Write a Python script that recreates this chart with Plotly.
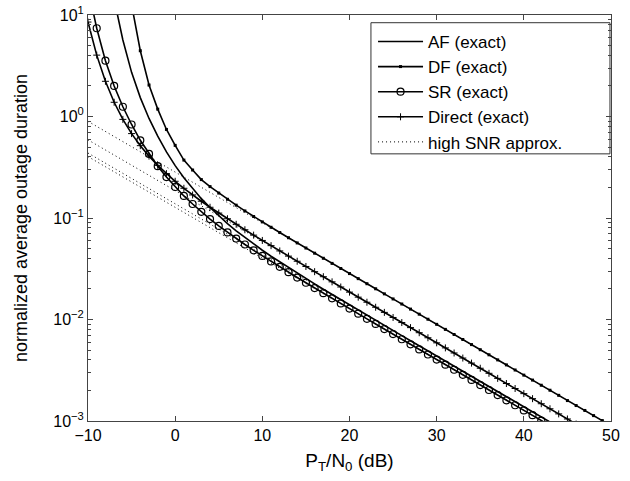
import plotly.graph_objects as go

# x grid (dB), one point per dB
snr_db = list(range(-10, 51))

# exact curves (one per dB from -10 dB)
af_exact = [60.0, 50.0, 43.7, 14.27, 5.675, 2.723, 1.535, 0.957, 0.640, 0.448,
            0.328, 0.249, 0.194, 0.155, 0.1268, 0.1054, 0.0882, 0.0748, 0.0641, 0.0553,
            0.0481, 0.0420, 0.0369, 0.03243, 0.02862, 0.02531, 0.02242, 0.01988, 0.01765, 0.01568,
            0.01394, 0.01240, 0.01103, 0.00982, 0.00874, 0.00779, 0.00694, 0.00618, 0.00551, 0.00490,
            0.00437, 0.00389, 0.00347, 0.00309, 0.00275, 0.00245, 0.00219, 0.00195, 0.00174, 0.00155,
            0.00138, 0.00123, 0.00110, 0.000977, 0.000871, None, None, None, None, None, None]

df_exact = [80.0, 70.0, 60.0, 55.0, 50.0, 12.66, 4.446, 2.042, 1.182, 0.7454,
            0.5195, 0.3720, 0.2970, 0.2390, 0.2039, 0.1760, 0.1529, 0.1338, 0.1174, 0.1034,
            0.0915, 0.0810, 0.0719, 0.0639, 0.0568, 0.0506, 0.0450, 0.0401, 0.0357, 0.0318,
            0.02835, 0.02527, 0.02252, 0.02007, 0.01789, 0.01594, 0.01421, 0.01266, 0.01128, 0.01006,
            0.00896, 0.00799, 0.00712, 0.00635, 0.00566, 0.00504, 0.00449, 0.00400, 0.00357, 0.00318,
            0.00283, 0.00253, 0.00225, 0.00201, 0.00179, 0.00159, 0.00142, 0.00127, 0.00113, 0.00101,
            0.000898]

sr_exact = [18.6, 7.40, 3.55, 2.00, 1.247, 0.834, 0.583, 0.428, 0.324, 0.253,
            0.202, 0.165, 0.1374, 0.1151, 0.0975, 0.0835, 0.0721, 0.0627, 0.0548, 0.0480,
            0.0423, 0.0373, 0.0330, 0.02923, 0.02590, 0.02301, 0.02042, 0.01816, 0.01616, 0.01439,
            0.01280, 0.01140, 0.01015, 0.00904, 0.00805, 0.00718, 0.00639, 0.00569, 0.00507, 0.00452,
            0.00403, 0.00359, 0.00320, 0.00285, 0.00254, 0.00226, 0.00202, 0.00180, 0.00160, 0.00143,
            0.00127, 0.00114, 0.00101, 0.000902, None, None, None, None, None, None, None]

direct_exact = [8.52, 4.024, 2.222, 1.381, 0.9366, 0.6784, 0.5161, 0.4071, 0.3300, 0.2735,
                0.2301, 0.1963, 0.1687, 0.1463, 0.1276, 0.1118, 0.0983, 0.0867, 0.0766, 0.0678,
                0.0601, 0.0534, 0.0474, 0.0421, 0.0375, 0.0333, 0.0296, 0.0264, 0.0235, 0.0209,
                0.0186, 0.0166, 0.0148, 0.0132, 0.01175, 0.01047, 0.00933, 0.00832, 0.00741, 0.00661,
                0.00589, 0.00525, 0.00468, 0.00417, 0.00372, 0.00331, 0.00295, 0.00263, 0.00234, 0.00209,
                0.00186, 0.00166, 0.00148, 0.00132, 0.001175, 0.001047, 0.000933, None, None, None, None]

# high-SNR approximations (straight lines in log scale): values at -10 dB and 50 dB
approx_db = [-10, 50]
af_approx = [0.4365, 0.000437]
df_approx = [0.8964, 0.000896]
sr_approx = [0.4027, 0.000403]
direct_approx = [0.5888, 0.000589]

# axis ticks
x_ticks = [-10, 0, 10, 20, 30, 40, 50]
y_ticks = [1e-3, 1e-2, 1e-1, 1e0, 1e1]
y_ticktext = ["10<sup>\u22123</sup>", "10<sup>\u22122</sup>", "10<sup>\u22121</sup>",
              "10<sup>0</sup>", "10<sup>1</sup>"]
y_minor = [m * 10 ** e for e in range(-3, 1) for m in range(2, 10)]

FONT = "Liberation Sans, Arial, sans-serif"
fig = go.Figure()
LW = 1.6
fig.add_trace(go.Scatter(x=snr_db, y=af_exact, mode="lines", name="AF (exact)",
                         line=dict(color="black", width=LW), legendgroup="a"))
fig.add_trace(go.Scatter(x=snr_db, y=df_exact, mode="lines+markers", name="DF (exact)",
                         line=dict(color="black", width=LW),
                         marker=dict(symbol="square", size=3, color="black"), legendgroup="b"))
fig.add_trace(go.Scatter(x=snr_db, y=sr_exact, mode="lines+markers", name="SR (exact)",
                         line=dict(color="black", width=LW),
                         marker=dict(symbol="circle-open", size=7, color="black",
                                     line=dict(width=1.2, color="black")), legendgroup="c"))
fig.add_trace(go.Scatter(x=snr_db, y=direct_exact, mode="lines+markers", name="Direct (exact)",
                         line=dict(color="black", width=LW),
                         marker=dict(symbol="cross-thin-open", size=5, color="black",
                                     line=dict(width=1, color="black")), legendgroup="d"))
for i, (vals, show) in enumerate([(af_approx, True), (df_approx, False),
                                  (sr_approx, False), (direct_approx, False)]):
    fig.add_trace(go.Scatter(x=approx_db, y=vals, mode="lines", name="high SNR approx.",
                             showlegend=show, legendgroup="e",
                             line=dict(color="black", width=1, dash="1px,3px")))

axis_common = dict(showline=True, linecolor="#444", linewidth=1, mirror="ticks",
                   ticks="inside", tickcolor="#444", ticklen=5, showgrid=False,
                   zeroline=False, automargin=False,
                   tickfont=dict(size=16, color="black", family=FONT))
fig.update_xaxes(range=[-10, 50], tickvals=x_ticks,
                 title=dict(text="P<sub>T</sub>/N<sub>0</sub> (dB)",
                            font=dict(size=19, color="black", family=FONT), standoff=10),
                 **axis_common)
fig.update_yaxes(type="log", range=[-3, 1], tickvals=y_ticks, ticktext=y_ticktext,
                 minor=dict(tickvals=y_minor, ticks="inside", ticklen=3, tickcolor="#444"),
                 title=dict(text="normalized average outage duration",
                            font=dict(size=18, color="black", family=FONT), standoff=20),
                 **axis_common)
fig.update_layout(
    width=630, height=481,
    margin=dict(l=88, r=19, t=15, b=60),
    paper_bgcolor="white", plot_bgcolor="white",
    font=dict(family=FONT, color="black"),
    showlegend=True,
    legend=dict(x=0.545, y=0.978, xanchor="left", yanchor="top",
                bgcolor="rgba(0,0,0,0)", borderwidth=0,
                font=dict(size=17, family=FONT), tracegroupgap=0, itemwidth=45),
    shapes=[dict(type="rect", xref="paper", yref="paper",
                 x0=0.541, x1=0.998, y0=0.658, y1=0.981,
                 line=dict(color="#333", width=1), fillcolor="white", layer="below")],
)
fig.write_html("out.html", config={"displayModeBar": False},
               post_script="document.body.style.margin='0';")
